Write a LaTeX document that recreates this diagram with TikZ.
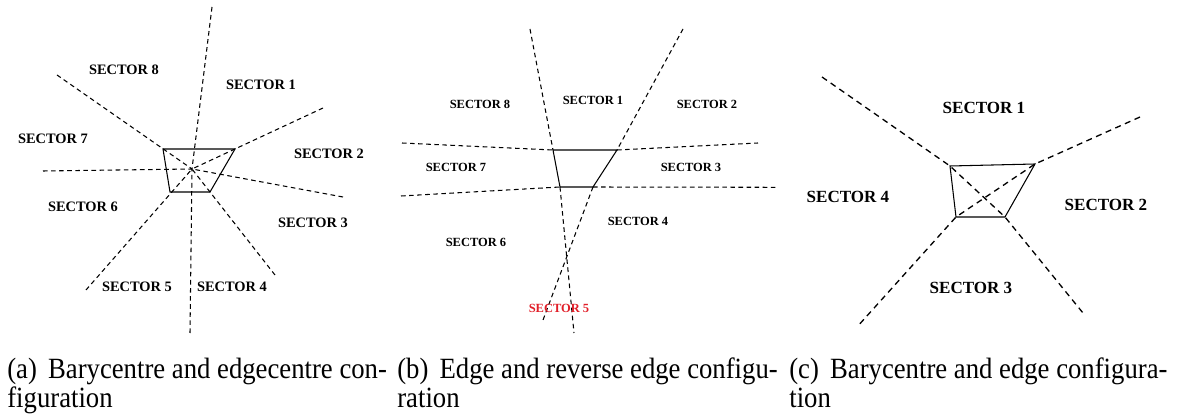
\documentclass[tikz,border=0pt]{standalone}
\usepackage{fontspec}
\setmainfont{Liberation Serif}
\usepackage{xcolor}
\usetikzlibrary{positioning}

\definecolor{secred}{RGB}{225,30,40}

\begin{document}
\begin{tikzpicture}[
x=0.02cm, y=-0.02cm,
seca/.style={inner sep=0pt, font=\bfseries\fontsize{8.2}{10}\selectfont},
secb/.style={inner sep=0pt, font=\bfseries\fontsize{7.1}{9}\selectfont},
secc/.style={inner sep=0pt, font=\bfseries\fontsize{9.7}{12}\selectfont},
border/.style={line width=0.6pt},
cut/.style={line width=0.6pt, dash pattern=on 2.6pt off 2pt},
bigcut/.style={line width=0.75pt, dash pattern=on 3.4pt off 2.6pt},
capline/.style={anchor=base west, inner sep=0pt, font=\fontsize{15.2}{18}\selectfont}
]

\useasboundingbox (0,0) rectangle (1178,415);

%-------------------------
% (a) Barycentre and edgecentre
%-------------------------

\coordinate (atl) at (163,149);
\coordinate (atr) at (235,149);
\coordinate (abr) at (210,192);
\coordinate (abl) at (170,192);
\coordinate (actr) at (192,169);

\coordinate (an) at (212,7);
\coordinate (ane) at (323,108);
\coordinate (ae) at (343,197);
\coordinate (ase) at (275,275);
\coordinate (as) at (190,333);
\coordinate (asw) at (86,290);
\coordinate (aw) at (43,171);
\coordinate (anw) at (57,75);

\draw[border] (atl) -- (atr) -- (abr) -- (abl) -- cycle;

\foreach \p in {an,ane,ae,ase,as,asw,aw,anw}
  \draw[cut] (\p) -- (actr);

\node[seca] (a8) at (124,70) {SECTOR 8};
\node[seca] (a1) at (261,85) {SECTOR 1};
\node[seca] (a7) at (53,139) {SECTOR 7};
\node[seca] (a2) at (329,154) {SECTOR 2};
\node[seca] (a6) at (83,207) {SECTOR 6};
\node[seca] (a3) at (313,223) {SECTOR 3};
\node[seca] (a5) at (137,287) {SECTOR 5};
\node[seca] (a4) at (232,287) {SECTOR 4};

%-------------------------
% (b) Edge and reverse edge
%-------------------------

\coordinate (btl) at (553,150);
\coordinate (btr) at (617,150);
\coordinate (bbr) at (593,187);
\coordinate (bbl) at (560,187);

\draw[border] (btl) -- (btr) -- (bbr) -- (bbl) -- cycle;

\draw[cut] (402,143) -- (btl);
\draw[cut] (btr) -- (758,143);
\draw[cut] (401,196) -- (bbl);
\draw[cut] (bbr) -- (777,187.3);
\draw[cut] (530,29) -- (btl);
\draw[cut] (bbl) -- (574,333);
\draw[cut] (683,29) -- (btr);
\draw[cut] (bbr) -- (543,320);

\node[secb] (b8) at (480,104) {SECTOR 8};
\node[secb] (b1) at (593,100) {SECTOR 1};
\node[secb] (b2) at (707,104) {SECTOR 2};
\node[secb] (b7) at (456,167) {SECTOR 7};
\node[secb] (b3) at (691,167) {SECTOR 3};
\node[secb] (b4) at (638,221) {SECTOR 4};
\node[secb] (b6) at (476,242) {SECTOR 6};
\node[secb, text=secred] (b5) at (559,308) {SECTOR 5};

%-------------------------
% (c) Barycentre and edge
%-------------------------

\coordinate (ctl) at (950,166);
\coordinate (ctr) at (1035,164);
\coordinate (cbr) at (1005,217);
\coordinate (cbl) at (956,217);

\draw[border] (ctl) -- (ctr) -- (cbr) -- (cbl) -- cycle;

\draw[bigcut] (822,77) -- (ctl) -- (cbr) -- (1083,313);
\draw[bigcut] (1140,117) -- (ctr) -- (cbl) -- (857,327);

\node[secc] (c1) at (984,108) {SECTOR 1};
\node[secc] (c4) at (848,197) {SECTOR 4};
\node[secc] (c2) at (1106,205) {SECTOR 2};
\node[secc] (c3) at (971,288) {SECTOR 3};

%-------------------------
% Captions
%-------------------------

\node[capline] (capa) at (7,379) {\scalebox{1}[1.1]{(a)\, Barycentre and edgecentre con-}};
\node[capline] (capa2) at (7,408) {\scalebox{1}[1.1]{figuration}};
\node[capline] (capb) at (397,379) {\scalebox{1}[1.1]{(b)\, Edge and reverse edge configu-}};
\node[capline] (capb2) at (397,408) {\scalebox{1}[1.1]{ration}};
\node[capline] (capc) at (789,379) {\scalebox{1}[1.1]{(c)\, Barycentre and edge configura-}};
\node[capline] (capc2) at (789,408) {\scalebox{1}[1.1]{tion}};

\end{tikzpicture}
\end{document}
